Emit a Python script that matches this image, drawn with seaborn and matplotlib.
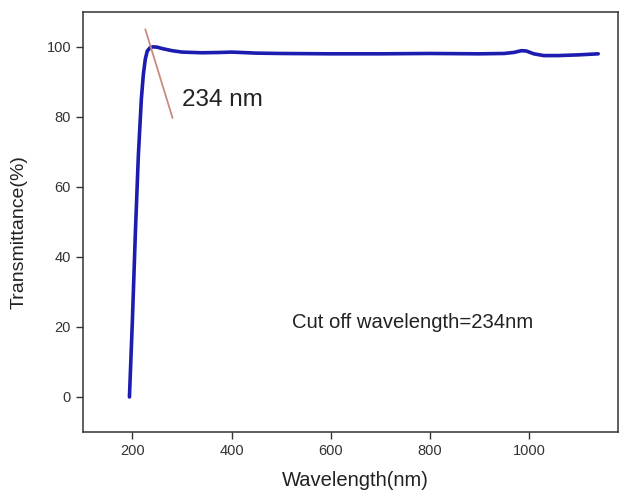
import numpy as np
import pandas as pd
import matplotlib
matplotlib.use("Agg")
import matplotlib.pyplot as plt
import seaborn as sns

# ── Data ──────────────────────────────────────────────────────────────────────
WAVELENGTH = [194, 200, 206, 212, 218, 222, 226, 230, 236, 242, 250,
              260, 280, 300, 340, 380, 400, 450, 500, 600, 700, 800, 900, 950,
              970, 985, 995, 1010, 1030, 1060, 1100, 1140]
TRANSMITTANCE = [0, 22, 47, 69, 85, 92, 96.5, 98.8, 99.8, 100, 99.9,
                 99.5, 98.9, 98.5, 98.3, 98.4, 98.5, 98.2, 98.1, 98.0, 98.0,
                 98.1, 98.0, 98.1, 98.4, 98.9, 98.8, 98.0, 97.5, 97.5, 97.7, 98.0]
TANGENT_X = [226, 281]
TANGENT_Y = [105, 79.7]
CUTOFF_LABEL = "234 nm"
NOTE_LABEL = "Cut off wavelength=234nm"

df = pd.DataFrame({"Wavelength": WAVELENGTH, "Transmittance": TRANSMITTANCE})

sns.set_style("ticks")
plt.rcParams["font.family"] = ["Liberation Sans", "DejaVu Sans"]

fig = plt.figure(figsize=(6.23, 4.92), dpi=100)
ax = fig.add_axes([0.133, 0.122, 0.859, 0.854])

sns.lineplot(data=df, x="Wavelength", y="Transmittance", color="#1c1cb0",
             linewidth=2.6, ax=ax)
ax.plot(TANGENT_X, TANGENT_Y, color="#c98a7e", linewidth=1.3)

ax.text(300, 84.9, CUTOFF_LABEL, fontsize=17.5, va="center", ha="left", color="#222222")
ax.text(523, 21.4, NOTE_LABEL, fontsize=14.6, va="center", ha="left", color="#222222")

ax.set_xlim(100, 1180)
ax.set_ylim(-10, 110)
ax.set_xticks([200, 400, 600, 800, 1000])
ax.set_yticks([0, 20, 40, 60, 80, 100])
ax.tick_params(labelsize=10.5, colors="#333333", length=5, width=1)
ax.set_xlabel("Wavelength(nm)", fontsize=14.5, color="#222222")
ax.set_ylabel("Transmittance(%)", fontsize=14, color="#222222")
ax.xaxis.set_label_coords(0.51, -0.093)
ax.yaxis.set_label_coords(-0.103, 0.476)
for s in ax.spines.values():
    s.set_visible(True)
    s.set_color("#333333")
    s.set_linewidth(1.1)

fig.savefig("out.png", dpi=100)
